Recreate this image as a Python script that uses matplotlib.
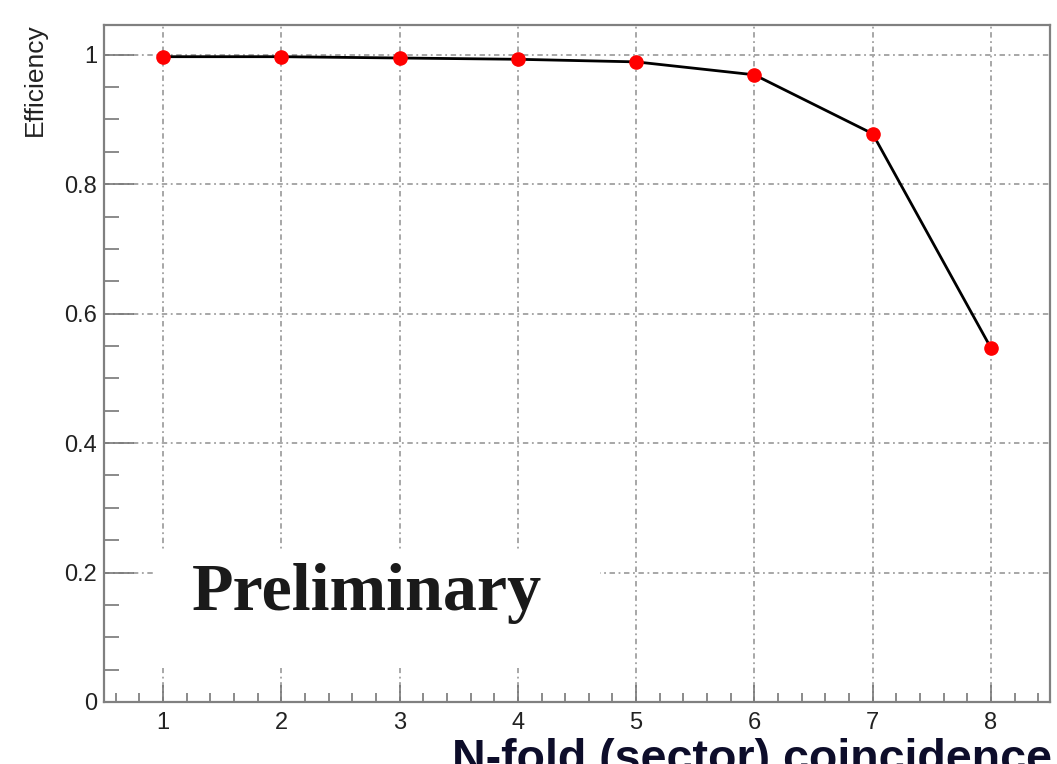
import numpy as np
import matplotlib.pyplot as plt
from matplotlib.ticker import MultipleLocator
from matplotlib.patches import Rectangle

# N-fold sector coincidence vs efficiency
n_fold = [1, 2, 3, 4, 5, 6, 7, 8]
efficiency = [0.997, 0.997, 0.995, 0.993, 0.989, 0.969, 0.878, 0.547]
y_ticks = [0, 0.2, 0.4, 0.6, 0.8, 1.0]
y_tick_labels = ['0', '0.2', '0.4', '0.6', '0.8', '1']

plt.rcParams['font.family'] = ['Liberation Sans', 'DejaVu Sans']

fig = plt.figure(figsize=(10.57, 7.64), dpi=100)
ax = fig.add_axes([0.0984, 0.0812, 0.895, 0.8861])

ax.plot(n_fold, efficiency, '-', color='black', lw=2.0, zorder=3)
ax.plot(n_fold, efficiency, 'o', color='#ff0000', markersize=9.5, zorder=4)

ax.set_xlim(0.5, 8.5)
ax.set_ylim(0, 1.046)

ax.xaxis.set_major_locator(MultipleLocator(1))
ax.xaxis.set_minor_locator(MultipleLocator(0.2))
ax.set_yticks(y_ticks)
ax.set_yticklabels(y_tick_labels)
ax.yaxis.set_minor_locator(MultipleLocator(0.05))

ax.grid(True, which='major', color='#a0a0a0', lw=1.3, linestyle=(0, (3, 2, 1, 2)), zorder=1)

ax.tick_params(axis='both', which='both', direction='in', color='#777777', width=1.2,
               labelsize=17, labelcolor='#222222', top=False, right=False)
ax.tick_params(axis='y', which='major', length=21.5, pad=5)
ax.tick_params(axis='y', which='minor', length=10.5)
ax.tick_params(axis='x', which='major', length=12, pad=7)
ax.tick_params(axis='x', which='minor', length=6.5)

for s in ax.spines.values():
    s.set_color('#808080')
    s.set_linewidth(1.6)

# white box behind the "Preliminary" stamp
ax.add_patch(Rectangle((0.054, 0.050), 0.470, 0.172, transform=ax.transAxes,
                       facecolor='white', edgecolor='none', zorder=2))
ax.text(0.0925, 0.136, 'Preliminary', transform=ax.transAxes, fontsize=49,
        fontweight='bold', family=['Liberation Serif', 'DejaVu Serif'],
        color='#1a1a1a', ha='left', va='baseline', zorder=5)

fig.text(0.033, 0.970, 'Efficiency', rotation=90, ha='center', va='top',
         fontsize=19, color='#222222')
fig.text(0.995, -0.0105, 'N-fold (sector) coincidence', ha='right', va='baseline',
         fontsize=33.5, fontweight='bold', color='#0d0d2a')

fig.savefig('out.png', dpi=100)
